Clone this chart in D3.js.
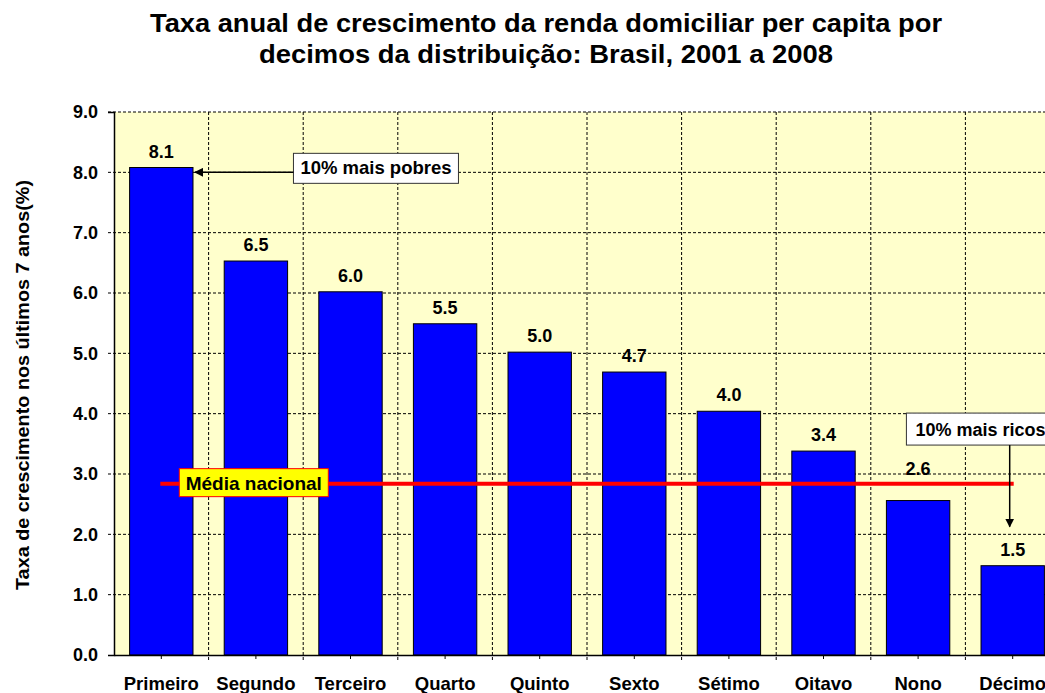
<!DOCTYPE html>
<html>
<head>
<meta charset="utf-8">
<script src="https://cdn.jsdelivr.net/npm/d3@7"></script>
<style>
  body { margin: 0; background: #fff; }
  text { font-family: "Liberation Sans", Arial, sans-serif; }
</style>
</head>
<body>
<div id="chart-area"></div>
<script>
// data
var decimos = ["Primeiro", "Segundo", "Terceiro", "Quarto", "Quinto", "Sexto", "Sétimo", "Oitavo", "Nono", "Décimo"];
var taxas = [8.08, 6.53, 6.02, 5.49, 5.02, 4.69, 4.04, 3.38, 2.56, 1.48];
var yTicks = [0, 1, 2, 3, 4, 5, 6, 7, 8, 9];
var mediaNacional = 2.84;
var titulo = ["Taxa anual de crescimento da renda domiciliar per capita por",
              "decimos da distribuição: Brasil, 2001 a 2008"];

var width = 1045, height = 693;
var margin = {top: 112, right: -15, bottom: 38, left: 114};
var pw = width - margin.left - margin.right;
var ph = height - margin.top - margin.bottom;

var svg = d3.select("#chart-area").append("svg")
  .attr("width", width)
  .attr("height", height);

var defs = svg.append("defs");
defs.append("marker")
  .attr("id", "seta")
  .attr("viewBox", "0 0 10 10")
  .attr("refX", 9).attr("refY", 5)
  .attr("markerWidth", 9).attr("markerHeight", 9)
  .attr("markerUnits", "userSpaceOnUse")
  .attr("orient", "auto")
  .append("path").attr("d", "M0,0 L10,5 L0,10 z").attr("fill", "#000");

// title
svg.append("text")
  .attr("x", 546).attr("y", 32)
  .attr("text-anchor", "middle")
  .attr("font-size", "25px").attr("font-weight", "bold")
  .attr("textLength", 792).attr("lengthAdjust", "spacingAndGlyphs")
  .text(titulo[0]);
svg.append("text")
  .attr("x", 546).attr("y", 63)
  .attr("text-anchor", "middle")
  .attr("font-size", "25px").attr("font-weight", "bold")
  .attr("textLength", 574).attr("lengthAdjust", "spacingAndGlyphs")
  .text(titulo[1]);

var g = svg.append("g")
  .attr("transform", "translate(" + margin.left + "," + margin.top + ")");

var x = d3.scaleBand()
  .domain(decimos)
  .range([0, pw])
  .paddingInner(0.33)
  .paddingOuter(0.165);

var y = d3.scaleLinear()
  .domain([0, 9])
  .range([ph, 0]);

// plot background
g.append("rect")
  .attr("width", pw).attr("height", ph)
  .attr("fill", "#ffffcc");

// horizontal grid
g.append("g")
  .selectAll("line")
  .data(yTicks.slice(1))
  .enter().append("line")
    .attr("x1", -6).attr("x2", pw)
    .attr("y1", d => y(d)).attr("y2", d => y(d))
    .attr("stroke", "#000").attr("stroke-width", 1)
    .attr("stroke-dasharray", "3,2");

// vertical grid at band boundaries
g.append("g")
  .selectAll("line")
  .data(decimos.slice(1))
  .enter().append("line")
    .attr("x1", d => x(d) - (x.step() - x.bandwidth()) / 2)
    .attr("x2", d => x(d) - (x.step() - x.bandwidth()) / 2)
    .attr("y1", 0).attr("y2", ph + 6)
    .attr("stroke", "#000").attr("stroke-width", 1)
    .attr("stroke-dasharray", "3,2");

// bars
g.selectAll("rect.bar")
  .data(taxas)
  .enter().append("rect")
    .attr("class", "bar")
    .attr("x", (d, i) => x(decimos[i]))
    .attr("y", d => y(d))
    .attr("width", x.bandwidth())
    .attr("height", d => ph - y(d))
    .attr("fill", "#0000ff")
    .attr("stroke", "#000").attr("stroke-width", 1);

// axes
var leftAxis = d3.axisLeft(y)
  .tickValues(yTicks)
  .tickSize(6)
  .tickFormat(d3.format(".1f"));
var ya = g.append("g").call(leftAxis);
ya.select(".domain").attr("stroke", "#000").attr("stroke-width", 1.5);
ya.selectAll(".tick line").remove();
ya.selectAll("text")
  .attr("x", -16)
  .attr("font-size", "18px").attr("font-weight", "bold")
  .attr("font-family", "Liberation Sans, Arial, sans-serif")
  .attr("fill", "#000");

var bottomAxis = d3.axisBottom(x).tickSize(4).tickSizeOuter(0);
var xa = g.append("g")
  .attr("transform", "translate(0," + ph + ")")
  .call(bottomAxis);
xa.select(".domain").attr("stroke", "#000").attr("stroke-width", 1.5);
xa.selectAll("text")
  .attr("y", 22)
  .attr("font-size", "18.5px").attr("font-weight", "bold")
  .attr("font-family", "Liberation Sans, Arial, sans-serif")
  .attr("fill", "#000");

// media nacional line
var yMedia = y(mediaNacional);
g.append("line")
  .attr("x1", x(decimos[0]) + x.bandwidth() / 2 - 1)
  .attr("x2", x(decimos[9]) + x.bandwidth() / 2 + 1)
  .attr("y1", yMedia).attr("y2", yMedia)
  .attr("stroke", "#ff0000").attr("stroke-width", 4);

// value labels
g.selectAll("text.valor")
  .data(taxas)
  .enter().append("text")
    .attr("class", "valor")
    .attr("x", (d, i) => x(decimos[i]) + x.bandwidth() / 2)
    .attr("y", d => {
      var yy = y(d) - 10;
      if (yy > yMedia - 16 && yy < yMedia + 30) yy = yMedia - 9;
      return yy;
    })
    .attr("text-anchor", "middle")
    .attr("font-size", "18px").attr("font-weight", "bold")
    .text(d => d3.format(".1f")(d));

// media nacional box
var mBox = g.append("g")
  .attr("transform", "translate(" + (x(decimos[0]) + x.bandwidth() / 2 + 18) + "," + (yMedia - 15) + ")");
mBox.append("rect")
  .attr("width", 149).attr("height", 28)
  .attr("fill", "#ffff00").attr("stroke", "#ff0000").attr("stroke-width", 1);
mBox.append("text")
  .attr("x", 74.5).attr("y", 21)
  .attr("text-anchor", "middle")
  .attr("font-size", "19px").attr("font-weight", "bold")
  .text("Média nacional");

// 10% mais pobres
var px0 = x(decimos[0]) + x.bandwidth();
var pBox = g.append("g")
  .attr("transform", "translate(" + (x(decimos[2]) - x.bandwidth() * 0.4) + "," + (y(8) - 19) + ")");
pBox.append("rect")
  .attr("width", 165).attr("height", 30)
  .attr("fill", "#fff").attr("stroke", "#333").attr("stroke-width", 1);
pBox.append("text")
  .attr("x", 82.5).attr("y", 21)
  .attr("text-anchor", "middle")
  .attr("font-size", "18.5px").attr("font-weight", "bold")
  .text("10% mais pobres");
g.append("line")
  .attr("x1", x(decimos[2]) - x.bandwidth() * 0.4).attr("x2", px0 + 2)
  .attr("y1", y(8)).attr("y2", y(8))
  .attr("stroke", "#000").attr("stroke-width", 1.5)
  .attr("marker-end", "url(#seta)");

// 10% mais ricos
var rx = x(decimos[9]) + x.bandwidth() / 2 - 3;
var rTop = y(4.01);
var rBox = g.append("g")
  .attr("transform", "translate(" + (x(decimos[8]) + 20) + "," + rTop + ")");
rBox.append("rect")
  .attr("width", 165).attr("height", 32)
  .attr("fill", "#fff").attr("stroke", "#333").attr("stroke-width", 1);
rBox.append("text")
  .attr("x", 9).attr("y", 23)
  .attr("font-size", "18px").attr("font-weight", "bold")
  .text("10% mais ricos");
g.append("line")
  .attr("x1", rx).attr("x2", rx)
  .attr("y1", rTop + 32).attr("y2", y(taxas[9]) - 39)
  .attr("stroke", "#000").attr("stroke-width", 1.5)
  .attr("marker-end", "url(#seta)");

// y axis label
svg.append("text")
  .attr("transform", "translate(29," + 385 + ") rotate(-90)")
  .attr("text-anchor", "middle")
  .attr("font-size", "18px").attr("font-weight", "bold")
  .attr("textLength", 410).attr("lengthAdjust", "spacingAndGlyphs")
  .text("Taxa de crescimento nos últimos 7 anos(%)");
</script>
</body>
</html>
